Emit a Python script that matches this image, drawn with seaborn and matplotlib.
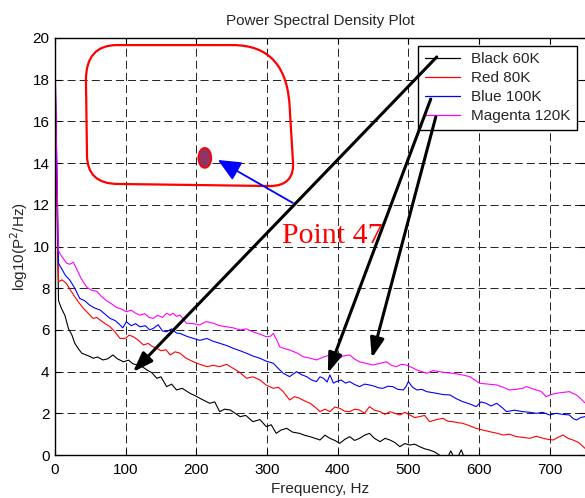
import numpy as np
import pandas as pd
import matplotlib
matplotlib.use("Agg")
import matplotlib.pyplot as plt
import seaborn as sns
from matplotlib.path import Path
from matplotlib.patches import PathPatch, Ellipse

# ---------------- data ----------------
labels = ["Black 60K", "Red 80K", "Blue 100K", "Magenta 120K"]
colors = ["#000000", "#FF0000", "#0000FF", "#FF00FF"]

f_black = [0, 5, 9, 14, 19, 24, 28, 33, 38, 44, 50, 54, 60, 68, 75, 82, 88, 97, 104, 110, 116,
           123, 130, 137, 144, 150, 158, 165, 172, 180, 191, 198, 205, 212, 219, 226, 233, 240,
           248, 255, 262, 270, 280, 290, 299, 306, 313, 320, 328, 336, 346, 353, 361, 368, 375,
           382, 389, 396, 403, 410, 417, 424, 431, 438, 445, 452, 460, 467, 474, 481, 488, 495,
           502, 509, 516, 523, 530, 537, 544, 553, 560, 567, 575, 580, 600, 630, 660, 700, 750]
v_black = [18.0, 7.4, 7.04, 6.7, 6.07, 5.75, 5.36, 5.1, 4.88, 4.8, 4.72, 4.64, 4.7, 4.56, 4.62,
           4.8, 4.62, 4.47, 4.55, 4.38, 4.32, 4.25, 4.08, 3.95, 3.68, 3.75, 3.28, 3.4, 3.12, 3.2,
           2.96, 2.85, 2.72, 2.6, 2.48, 2.55, 2.08, 2.2, 2.16, 2.0, 1.84, 1.9, 1.6, 1.7, 1.36,
           1.45, 1.04, 1.2, 1.28, 1.1, 1.04, 0.95, 0.88, 0.8, 0.72, 0.95, 0.8, 0.7, 0.56, 0.75,
           0.88, 0.7, 0.8, 0.95, 1.04, 0.8, 0.64, 0.8, 0.72, 0.6, 0.4, 0.55, 0.48, 0.52, 0.4, 0.3,
           0.24, 0.15, 0.0, -0.3, 0.2, -0.3, 0.25, -0.2, -0.5, -0.7, -0.8, -1.0, -1.2]

f_red = [0, 5, 10, 16, 22, 28, 34, 40, 47, 54, 59, 64, 71, 78, 85, 92, 100, 105, 111, 118, 125,
         132, 138, 144, 150, 157, 163, 170, 177, 185, 196, 205, 215, 224, 233, 243, 252, 262,
         271, 280, 290, 299, 309, 316, 323, 332, 339, 346, 353, 361, 368, 375, 382, 389, 396,
         403, 410, 417, 424, 431, 438, 445, 452, 460, 467, 474, 481, 488, 495, 502, 509, 516,
         523, 530, 540, 549, 556, 563, 570, 577, 587, 596, 605, 615, 625, 634, 643, 653, 662,
         672, 681, 691, 698, 705, 712, 719, 726, 733, 741, 750]
v_red = [18.5, 8.31, 8.4, 8.23, 7.9, 7.59, 7.3, 7.04, 6.8, 6.55, 6.6, 6.47, 6.3, 6.15, 5.9, 5.59,
         5.6, 5.75, 5.67, 5.5, 5.28, 5.35, 5.2, 5.12, 5.0, 5.05, 4.8, 4.95, 4.88, 4.65, 4.47,
         4.35, 4.24, 4.3, 4.24, 4.35, 4.16, 3.95, 3.68, 3.75, 3.6, 3.35, 3.2, 3.25, 3.04, 2.64,
         2.8, 2.72, 2.6, 2.48, 2.3, 2.08, 2.2, 2.08, 2.3, 2.24, 2.1, 2.08, 2.2, 2.16, 2.0, 2.32,
         2.15, 2.08, 1.95, 2.08, 2.0, 1.92, 2.05, 1.92, 1.8, 1.84, 1.9, 1.6, 1.7, 1.76, 1.62,
         1.6, 1.55, 1.52, 1.4, 1.28, 1.2, 1.12, 1.05, 0.96, 1.0, 0.88, 0.85, 0.8, 0.9, 0.8, 0.75,
         0.72, 0.85, 0.96, 0.8, 0.72, 0.6, 0.32]

f_blue = [0, 5, 10, 15, 21, 28, 35, 42, 49, 56, 64, 71, 78, 85, 92, 96, 101, 108, 114, 120,
          128, 134, 139, 146, 152, 158, 165, 172, 177, 186, 196, 205, 215, 224, 233, 243, 252,
          262, 271, 280, 290, 299, 309, 316, 323, 332, 342, 349, 356, 363, 370, 375, 380, 385,
          389, 394, 398, 405, 411, 417, 424, 431, 438, 445, 452, 458, 464, 471, 478, 485, 493,
          497, 500, 506, 512, 519, 526, 533, 540, 549, 559, 568, 577, 587, 596, 603, 610, 617,
          625, 632, 639, 650, 662, 672, 681, 690, 700, 709, 718, 728, 733, 738, 744, 750]
v_blue = [19.0, 9.19, 8.9, 8.6, 8.39, 8.0, 7.51, 7.4, 7.19, 7.05, 6.95, 6.75, 6.55, 6.45, 6.24,
          6.1, 6.39, 6.2, 6.3, 6.15, 6.2, 6.0, 6.07, 6.25, 5.95, 5.91, 6.05, 5.85, 5.83, 5.7,
          5.59, 5.5, 5.59, 5.45, 5.36, 5.25, 5.12, 5.0, 4.88, 4.75, 4.64, 4.5, 4.4, 4.15, 3.92,
          3.76, 4.0, 3.85, 3.76, 3.6, 3.52, 3.75, 3.68, 3.5, 3.84, 3.45, 3.52, 3.6, 3.45, 3.52,
          3.38, 3.28, 3.4, 3.36, 3.3, 3.22, 3.2, 3.3, 3.28, 3.15, 3.12, 3.3, 3.52, 3.25, 3.12,
          3.15, 3.04, 3.0, 2.96, 2.9, 2.88, 2.7, 2.56, 2.45, 2.32, 2.55, 2.48, 2.35, 2.48, 2.3,
          2.08, 2.15, 2.08, 2.05, 2.0, 2.05, 1.92, 2.0, 1.95, 1.92, 1.75, 1.68, 1.8, 1.84]

f_mag = [0, 4.7, 10, 16.5, 21, 26, 31, 35, 40, 45, 52, 59, 66, 73, 80, 87, 94, 101, 108, 114,
         120, 127, 133, 139, 145, 152, 158, 163, 167, 172, 177, 182, 186, 195, 205, 214, 224,
         233, 243, 252, 262, 271, 280, 290, 299, 305, 309, 314, 318, 325, 332, 342, 351, 360,
         370, 380, 389, 394, 398, 408, 417, 424, 431, 440, 450, 460, 469, 476, 483, 490, 497,
         505, 512, 519, 526, 535, 544, 553, 563, 575, 587, 594, 601, 613, 625, 634, 643, 652,
         662, 667, 674, 681, 688, 695, 702, 709, 718, 728, 733, 738, 744, 750]
v_mag = [19.3, 9.8, 9.5, 9.2, 9.15, 9.25, 8.9, 8.6, 8.3, 8.05, 7.9, 7.85, 7.6, 7.4, 7.25, 7.08,
         7.0, 6.87, 6.95, 6.8, 6.71, 6.78, 6.6, 6.55, 6.7, 6.6, 6.8, 6.7, 6.8, 6.65, 6.71, 6.5,
         6.32, 6.3, 6.24, 6.4, 6.32, 6.2, 6.15, 6.1, 6.0, 6.05, 5.91, 5.8, 5.67, 5.7, 5.83, 5.5,
         5.19, 5.1, 5.04, 4.9, 4.72, 4.65, 4.56, 4.7, 4.8, 4.65, 4.56, 4.75, 4.8, 4.6, 4.47,
         4.4, 4.32, 4.4, 4.47, 4.3, 4.24, 4.35, 4.32, 4.2, 4.08, 4.0, 3.92, 4.05, 4.0, 3.95,
         3.92, 3.85, 3.76, 3.6, 3.44, 3.4, 3.36, 3.25, 3.12, 3.15, 3.2, 3.28, 3.2, 3.12, 3.05,
         2.8, 2.9, 2.96, 3.0, 3.04, 2.95, 2.88, 2.7, 2.5]

x_ticks = [0, 100, 200, 300, 400, 500, 600, 700]
y_ticks = [0, 2, 4, 6, 8, 10, 12, 14, 16, 18, 20]

# ---------------- build long-form table ----------------
freqs = [f_black, f_red, f_blue, f_mag]
vals = [v_black, v_red, v_blue, v_mag]
frames = []
for lab, f, v in zip(labels, freqs, vals):
    frames.append(pd.DataFrame({"Frequency": f, "PSD": v, "series": lab}))
df = pd.concat(frames, ignore_index=True)

# ---------------- figure ----------------
sns.set_style("white")
plt.rcParams["font.family"] = ["Liberation Sans", "DejaVu Sans"]
plt.rcParams["lines.scale_dashes"] = False

fig = plt.figure(figsize=(5.85, 4.98), dpi=100)
ax = fig.add_axes([0.094, 0.0863, 0.906, 0.8374])

sns.lineplot(data=df, x="Frequency", y="PSD", hue="series", hue_order=labels,
             palette=colors, sort=False, estimator=None, units="series",
             linewidth=0.8, ax=ax, legend=True)

ax.set_xlim(0, 750)
ax.set_ylim(0, 20)
ax.set_xticks(x_ticks)
ax.set_yticks(y_ticks)
ax.tick_params(direction="in", length=4, width=0.8, labelsize=11, colors="black",
               top=True, right=True, bottom=True, left=True)
ax.tick_params(axis="x", pad=6)
ax.tick_params(axis="y", pad=4)
ax.grid(True, color="#222222", linestyle=(0, (5.8, 2.9)), linewidth=0.7)
ax.set_axisbelow(True)
for s in ["left", "bottom", "top"]:
    ax.spines[s].set_color("black")
    ax.spines[s].set_linewidth(1.0)
ax.spines["right"].set_visible(False)

ax.set_title("Power Spectral Density Plot", fontsize=11, pad=9)
ax.set_xlabel("Frequency, Hz", fontsize=11, labelpad=3)
ax.set_ylabel("log10(P$^2$/Hz)", fontsize=11, labelpad=2)

leg = ax.legend(loc="upper right", bbox_to_anchor=(0.985, 0.981), borderaxespad=0,
                fontsize=11, fancybox=False, framealpha=1, edgecolor="black",
                handlelength=2.3, handletextpad=0.75, labelspacing=0.33, borderpad=0.42)
leg.get_frame().set_linewidth(1.0)
for line in leg.get_lines():
    line.set_linewidth(0.9)

# ---------------- annotations ----------------
verts = [(87.7, 19.66), (251.7, 19.66), (329.5, 19.66), (332.3, 16.55), (336.6, 14.15),
         (340.4, 12.90), (304.1, 12.90), (89.1, 13.0), (45.3, 13.0), (45.3, 14.39),
         (43.8, 17.99), (43.8, 19.66), (87.7, 19.66)]
codes = [Path.MOVETO, Path.LINETO, Path.CURVE3, Path.CURVE3, Path.LINETO, Path.CURVE3,
         Path.CURVE3, Path.LINETO, Path.CURVE3, Path.CURVE3, Path.LINETO, Path.CURVE3,
         Path.CURVE3]
ax.add_patch(PathPatch(Path(verts, codes), facecolor="none", edgecolor="#FF0000",
                       linewidth=1.6, zorder=5))
ax.add_patch(Ellipse((212, 14.25), 18.4, 0.96, facecolor="#8E3466", edgecolor="#FF0000",
                     linewidth=1.2, zorder=6))

ax.annotate("", xy=(230.5, 14.15), xytext=(336.6, 12.09),
            arrowprops=dict(arrowstyle="-|>,head_length=1.0,head_width=0.45",
                            mutation_scale=14, color="#0000FF", lw=1.3,
                            shrinkA=0, shrinkB=0), zorder=7)

ax.text(321, 10.17, "Point 47", color="#FF0000", fontsize=21.5,
        family=["Liberation Serif", "DejaVu Serif"], ha="left", va="baseline", zorder=7)

for tail, tip in [((540.2, 19.09), (110.3, 3.98)),
                  ((531.7, 17.07), (386.1, 3.93)),
                  ((538.8, 16.21), (448.3, 4.65))]:
    ax.annotate("", xy=tip, xytext=tail,
                arrowprops=dict(arrowstyle="-|>,head_length=0.85,head_width=0.3",
                                mutation_scale=14, color="black", lw=2.2,
                                shrinkA=0, shrinkB=0), zorder=8)

fig.savefig("out.png", dpi=100)
